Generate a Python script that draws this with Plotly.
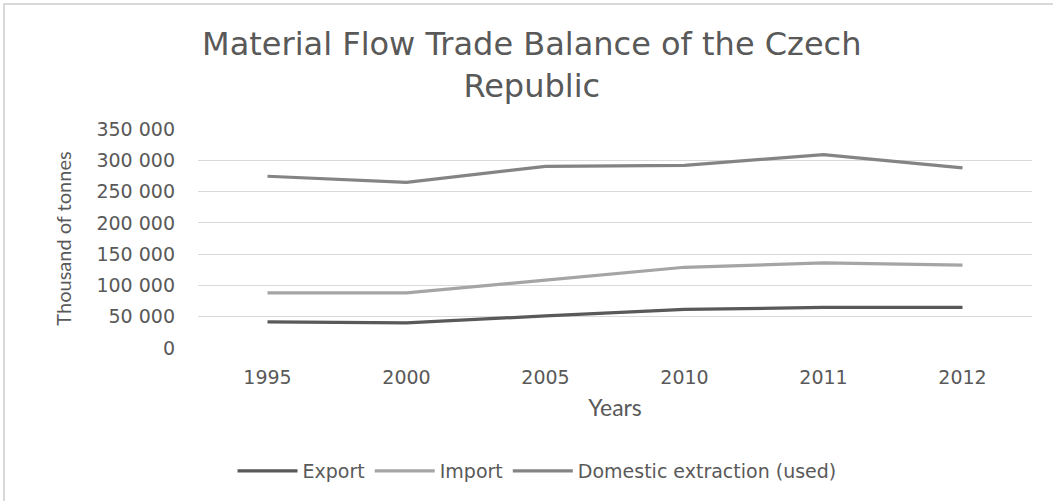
import plotly.graph_objects as go

# Material flow data, thousand tonnes
years = ["1995", "2000", "2005", "2010", "2011", "2012"]
export_vals = [41700, 40000, 51300, 61600, 64800, 64900]
import_vals = [88200, 88000, 108600, 129000, 135900, 132600]
domestic_vals = [274500, 264700, 290300, 292000, 309000, 287800]

y_ticks = [0, 50000, 100000, 150000, 200000, 250000, 300000, 350000]

W, H = 1053, 501
L, R, T, B = 198, 21, 129, 153
pw, ph = W - L - R, H - T - B

text_col = "#595959"
tick_font = dict(family="DejaVu Sans", size=19, color=text_col)

fig = go.Figure()
series = [
    ("Export", export_vals, "#595959"),
    ("Import", import_vals, "#a5a5a5"),
    ("Domestic extraction (used)", domestic_vals, "#848484"),
]
for name, vals, col in series:
    fig.add_trace(go.Scatter(x=years, y=vals, name=name, mode="lines",
                             line=dict(color=col, width=3.2)))

# light frame around the chart area
def px_x(p):
    return (p - L) / pw

def px_y(p):
    return 1 - (p - T) / ph

fig.add_shape(type="rect", xref="paper", yref="paper",
              x0=px_x(4), x1=px_x(1060), y0=px_y(520), y1=px_y(4),
              line=dict(color="#d9d9d9", width=2), fillcolor="rgba(0,0,0,0)",
              layer="below")

fig.update_layout(
    width=W, height=H,
    margin=dict(l=L, r=R, t=T, b=B),
    paper_bgcolor="white", plot_bgcolor="white",
    separators=". ",
    title=dict(text="Material Flow Trade Balance of the Czech<br>Republic",
               x=0.505, xref="container", xanchor="center",
               y=1 - 55 / H, yref="container", yanchor="middle",
               font=dict(family="DejaVu Sans", size=32, color=text_col)),
    showlegend=True,
    legend=dict(orientation="h", xref="container", yref="container",
                x=0.51, xanchor="center", y=1 - 471 / H, yanchor="middle",
                font=dict(family="DejaVu Sans", size=19, color=text_col),
                itemwidth=60, bgcolor="rgba(0,0,0,0)"),
    xaxis=dict(type="category", range=[-0.5, 5.5], showgrid=False,
               showline=False, zeroline=False, ticks="",
               tickfont=tick_font, ticklabelstandoff=16,
               title=dict(text="Years", font=dict(family="Lato", size=23, color=text_col),
                          standoff=12)),
    yaxis=dict(range=[0, 350000], tickvals=y_ticks, tickformat=",d",
               showgrid=True, gridcolor="#d9d9d9", gridwidth=1,
               zeroline=False, showline=False, ticks="",
               tickfont=tick_font, ticklabelstandoff=22,
               title=dict(text="Thousand of tonnes",
                          font=dict(family="Lato", size=20, color=text_col),
                          standoff=19)),
)

fig.write_html("out.html")
